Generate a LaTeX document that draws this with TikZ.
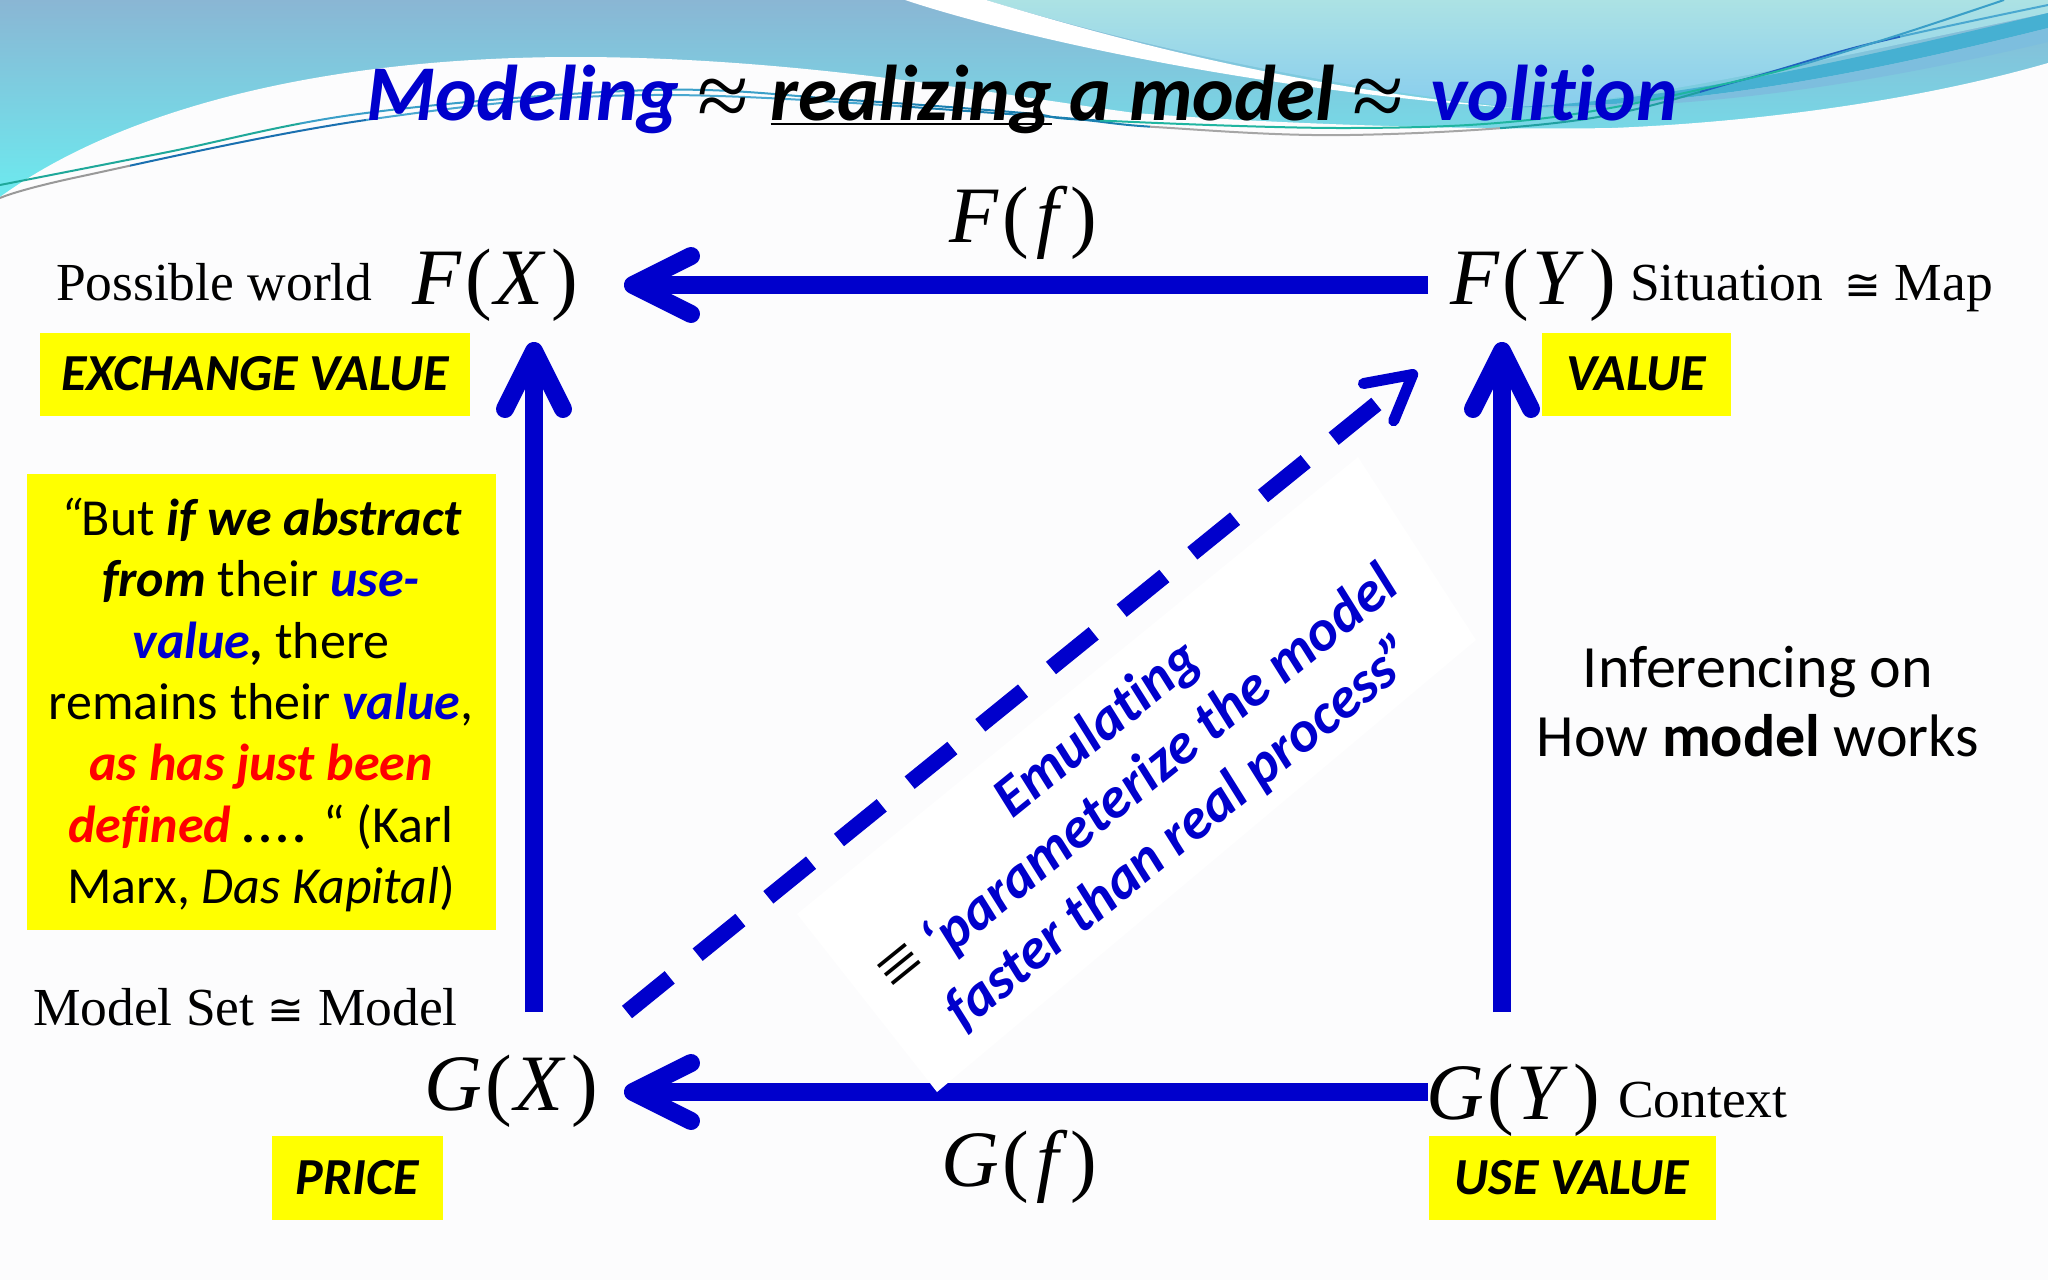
\documentclass[tikz,border=0pt]{standalone}
\usepackage{fontspec}
\setmainfont[Ligatures=NoCommon]{Carlito}
\newfontfamily\serifx{Liberation Serif}
\newfontfamily\symx{DejaVu Sans}
\usetikzlibrary{arrows.meta}
\definecolor{dblue}{HTML}{0000CC}
\definecolor{bgc}{HTML}{FCFCFD}
\definecolor{yel}{HTML}{FFFF00}
\definecolor{hdtop}{RGB}{138,182,212}
\definecolor{hdbot}{RGB}{107,236,240}
\definecolor{urtop}{RGB}{172,226,228}
\definecolor{urbot}{RGB}{136,205,238}
\definecolor{banda}{RGB}{70,176,210}
\definecolor{bandb}{RGB}{125,190,222}
\definecolor{lna}{RGB}{26,112,176}
\definecolor{lnb}{RGB}{74,168,208}
\definecolor{lnc}{RGB}{26,127,176}
\definecolor{lnd}{RGB}{32,159,160}
\definecolor{lne}{RGB}{32,96,192}
\definecolor{lnf}{RGB}{31,168,154}
\definecolor{lng}{RGB}{58,159,200}
\definecolor{lnh}{RGB}{31,181,160}
\newcommand\px[1]{\fontsize{#1}{#1}\selectfont}
\newcommand\ulx[1]{\sbox0{#1}\rlap{\rule[-5pt]{\wd0}{1.6pt}}\usebox0}
\newcommand\mth[2]{{\serifx\px{80}\textit{#1}\kern.04em{\upshape(}\kern.04em\textit{#2}\kern.06em{\upshape)}}}
\newcommand\bi[1]{\textbf{\textit{#1}}}
\newcommand\cng{{\symx\mdseries\upshape\fontsize{44}{44}\selectfont ≅}}
\newcommand\aeq{{\serifx\mdseries\upshape\px{94}\textcolor{black}{\raisebox{-7pt}{≈}}}}
\newcommand\lnseg[4]{\begin{scope}\clip (#1,0) rectangle (#2,220);\draw[line width=2pt,color=#3] plot[smooth,tension=.6] coordinates {#4};\end{scope}}
\newcommand\lineA{(0,185) (163,153) (366,113) (653,90) (849,100) (1024,113) (1089,120) (1350,128) (1546,118) (1742,80) (1873,43) (2004,0)}
\newcommand\lineB{(0,198) (78,177) (366,120) (653,95) (1024,115) (1155,127) (1350,135) (1579,120) (1742,80) (1873,43) (2048,5)}
\tikzset{
  lbl/.style={inner sep=0pt,outer sep=0pt},
  title/.style={lbl,anchor=base west,font=\bfseries\itshape\px{79}},
  mathlab/.style={lbl,anchor=base},
  serlab/.style={lbl,anchor=base west,font=\serifx\px{53.5}},
  tag/.style={lbl,fill=yel,font=\bfseries\itshape\px{52},text=black,anchor=center},
  arr/.style={dblue,line width=18pt,-{Straight Barb[length=58pt,width=58pt,round]}},
  dasharr/.style={dblue,line width=16pt,dash pattern=on 55pt off 36pt,-{Straight Barb[length=44pt,width=48pt,line width=11pt,round]}},
}
\begin{document}
\begin{tikzpicture}[x=1pt,y=-1pt]
\useasboundingbox (0,0) rectangle (2048,1280);
\fill[bgc] (0,0) rectangle (2048,1280);
% header gradient
\shade[top color=hdtop,bottom color=hdbot] (0,0) rectangle (2048,205);
% upper right lighter region
\shade[top color=urtop,bottom color=urbot]
  (986,0) .. controls (1150,50) and (1350,90) .. (1514,107) .. controls (1620,105) and (1800,65) .. (2048,13) -- (2048,0) -- cycle;
% white wedge
\fill[white] (905,0) .. controls (1010,35) and (1250,90) .. (1514,108) .. controls (1320,90) and (1150,50) .. (986,0) -- cycle;
% thick teal band
\fill[banda] (1514,107) .. controls (1680,100) and (1850,60) .. (2048,13) -- (2048,28) .. controls (1880,70) and (1700,108) .. (1514,107) -- cycle;
\fill[bandb] (1514,107) .. controls (1700,108) and (1880,70) .. (2048,28) -- (2048,42) .. controls (1880,82) and (1700,112) .. (1514,107) -- cycle;
% main white area
\fill[bgc] (0,197) .. controls (120,110) and (320,57) .. (575,57) .. controls (800,57) and (1000,95) .. (1135,113) .. controls (1300,126) and (1500,130) .. (1612,128) .. controls (1760,122) and (1920,100) .. (2048,63) -- (2048,215) -- (0,215) -- cycle;
% swoosh lines
\lnseg{0}{130}{gray!80}{\lineB}
\lnseg{130}{366}{lna}{\lineB}
\lnseg{366}{900}{lnb}{\lineB}
\lnseg{900}{1150}{lnc}{\lineB}
\lnseg{1150}{1500}{gray!70}{\lineB}
\lnseg{1500}{1700}{lnd}{\lineB}
\lnseg{1700}{1900}{lne}{\lineB}
\lnseg{1900}{2048}{lnb}{\lineB}
\lnseg{0}{300}{lnf}{\lineA}
\lnseg{300}{800}{lng}{\lineA}
\lnseg{800}{1100}{lnc}{\lineA}
\lnseg{1100}{1800}{lnh}{\lineA}
\lnseg{1800}{2048}{lng}{\lineA}
% title
\node[title] (ttl) at (366,120) {\textcolor{dblue}{Modeling} \aeq{}\kern4pt{} \ulx{realizing} a model \aeq{}\kern9pt{} \textcolor{dblue}{volition}};
% math labels
\node[mathlab] (ff) at (1023,242) {\mth{F}{\kern.06em f\kern.08em}};
\node[mathlab] (fx) at (495,304) {\mth{F}{X}};
\node[mathlab] (fy) at (1533,304) {\mth{F}{Y}};
\node[mathlab] (gx) at (511,1110) {\mth{G}{X}};
\node[mathlab] (gy) at (1513,1119) {\mth{G}{Y}};
\node[mathlab] (gf) at (1019,1186) {\mth{G}{\kern.06em f\kern.08em}};
% serif labels
\node[serlab] (pw) at (56,300) {Possible world};
\node[serlab] (sm) at (1630,300) {Situation\kern8pt{} \cng{} Map};
\node[serlab] (ms) at (33,1025) {Model Set \cng{} Model};
\node[serlab] (ctx) at (1618,1117) {Context};
% tags
\node[tag,minimum width=430pt,minimum height=83pt] (ev) at (255,374) {EXCHANGE VALUE};
\node[tag,minimum width=189pt,minimum height=83pt] (val) at (1636,374) {VALUE};
\node[tag,minimum width=171pt,minimum height=84pt] (pr) at (357,1178) {PRICE};
\node[tag,minimum width=287pt,minimum height=84pt] (uv) at (1572,1178) {USE VALUE};
% quote
\node[lbl,fill=yel,minimum width=469pt,minimum height=456pt] (qtbox) at (261,702) {};
\node[lbl,align=center,font=\fontsize{52}{61.3}\selectfont] (qt) at (261,705) {
\textit{“}But \bi{if we abstract}\\
\bi{from} their \textcolor{dblue}{\bi{use-}}\\
\textcolor{dblue}{\bi{value}}\bi{,} there\\
remains their \textcolor{dblue}{\bi{value}},\\
\textcolor{red}{\bi{as has just been}}\\
\textcolor{red}{\bi{defined}} \bi{.\kern3pt.\kern3pt.\kern3pt.} “ (Karl\\
Marx, \textit{Das Kapital})};
% connector ends
\coordinate (fxE) at (624,285);
\coordinate (fyW) at (1428,285);
\coordinate (gxE) at (624,1092);
\coordinate (gyW) at (1428,1092);
\coordinate (gxN) at (534,1012);
\coordinate (fxS) at (534,342);
\coordinate (gyN) at (1502,1012);
\coordinate (fyS) at (1502,342);
\coordinate (gxNE) at (627,1012);
\coordinate (fySW) at (1417,371);
% connectors
\draw[arr] (fyW) -- (fxE);
\draw[arr] (gyW) -- (gxE);
\draw[arr] (gxN) -- (fxS);
\draw[arr] (gyN) -- (fyS);
% white patch
\fill[white] (797,914) -- (937,1092) -- (1476,640) -- (1358,457) -- cycle;
\draw[dasharr] (gxNE) -- (fySW);
% rotated text
\node[lbl,rotate=39,align=center,text=dblue,font=\bfseries\itshape\fontsize{58}{67}\selectfont] (em) at (1140,782) {Emulating\\{\serifx\mdseries\upshape\px{76}\textcolor{black}{≡}} ‘parameterize the model\\faster than real process”};
% side text
\node[lbl,align=center,anchor=base,font=\fontsize{60}{69}\selectfont] (inf) at (1758,756) {Inferencing on\\How \textbf{model} works};
\end{tikzpicture}
\end{document}
